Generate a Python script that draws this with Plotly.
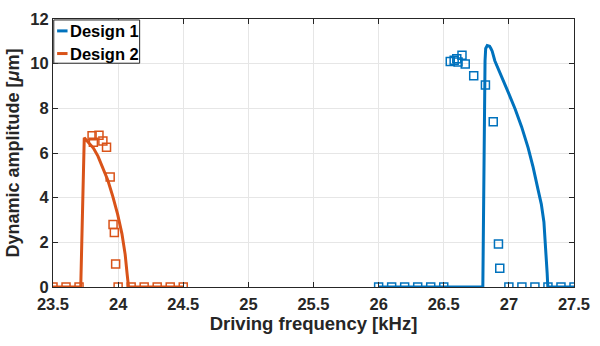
import plotly.graph_objects as go

# Simulated response curves (frequency in kHz, amplitude in µm)
d1_line_f = [26.0, 26.5, 26.80, 26.817, 26.822, 26.834, 26.852, 26.862, 26.872, 26.892,
             26.947, 26.997, 27.048, 27.098, 27.148, 27.186, 27.224, 27.249, 27.269,
             27.284, 27.294, 27.299, 27.5]
d1_line_a = [0.0, 0.0, 0.0, 10.13, 10.68, 10.81, 10.78, 10.68, 10.56, 10.13,
             9.41, 8.69, 7.97, 7.17, 6.23, 5.37, 4.36, 3.71, 2.91,
             1.76, 0.61, 0.0, 0.0]

d2_line_f = [23.5, 23.713, 23.74, 23.77, 23.81, 23.845, 23.883, 23.921, 23.959, 23.996,
             24.029, 24.054, 24.069, 24.08, 24.5]
d2_line_a = [0.0, 0.0, 6.68, 6.48, 6.22, 5.86, 5.35, 4.78, 4.06, 3.26,
             2.39, 1.46, 0.59, 0.0, 0.0]

# Measured points
d1_meas_f = [26.0, 26.1, 26.2, 26.3, 26.4, 26.5,
             26.55, 26.58, 26.60, 26.61, 26.64, 26.665, 26.73, 26.82, 26.88, 26.92, 26.93,
             27.0, 27.1, 27.2, 27.3, 27.4, 27.5]
d1_meas_a = [0, 0, 0, 0, 0, 0,
             10.1, 10.15, 10.22, 10.08, 10.38, 9.98, 9.46, 9.05, 7.4, 1.93, 0.84,
             0, 0, 0, 0, 0, 0]

d2_meas_f = [23.5, 23.6, 23.7,
             23.80, 23.81, 23.853, 23.883, 23.911, 23.939, 23.961, 23.971, 23.981,
             24.0, 24.1, 24.2, 24.3, 24.4, 24.5]
d2_meas_a = [0, 0, 0,
             6.77, 6.48, 6.80, 6.54, 6.26, 4.92, 2.80, 2.44, 1.03,
             0, 0, 0, 0, 0, 0]

x_ticks = [23.5, 24, 24.5, 25, 25.5, 26, 26.5, 27, 27.5]
x_tick_text = ["23.5", "24", "24.5", "25", "25.5", "26", "26.5", "27", "27.5"]
y_ticks = [0, 2, 4, 6, 8, 10, 12]
series_names = ["Design 1", "Design 2"]

BLUE = "#0072BD"
ORANGE = "#D95319"
AX = "#262626"
FONT = "Liberation Sans"

fig = go.Figure()
fig.add_trace(go.Scatter(x=d1_meas_f, y=d1_meas_a, mode="markers", showlegend=False,
                         marker=dict(symbol="square-open", size=8, color=BLUE,
                                     line=dict(width=1.5, color=BLUE))))
fig.add_trace(go.Scatter(x=d2_meas_f, y=d2_meas_a, mode="markers", showlegend=False,
                         marker=dict(symbol="square-open", size=8, color=ORANGE,
                                     line=dict(width=1.5, color=ORANGE))))
fig.add_trace(go.Scatter(x=d1_line_f, y=d1_line_a, mode="lines", name=series_names[0],
                         showlegend=False, line=dict(color=BLUE, width=3)))
fig.add_trace(go.Scatter(x=d2_line_f, y=d2_line_a, mode="lines", name=series_names[1],
                         showlegend=False, line=dict(color=ORANGE, width=3)))

axis_common = dict(showline=True, linecolor=AX, linewidth=1, mirror="ticks",
                   ticks="inside", ticklen=5, tickcolor=AX,
                   showgrid=True, gridcolor="#e6e6e6", gridwidth=1, zeroline=False,
                   tickfont=dict(family=FONT, size=16.5, color=AX))

# Compact boxed legend in the upper-left corner of the axes
shapes = [dict(type="rect", xref="paper", yref="paper", x0=0.0015, x1=0.1663,
               y0=0.835, y1=0.9964, line=dict(color=AX, width=1), fillcolor="white",
               layer="above")]
annotations = []
for name, color, yy in [(series_names[0], BLUE, 0.9556), (series_names[1], ORANGE, 0.8711)]:
    shapes.append(dict(type="line", xref="paper", yref="paper", x0=0.0079, x1=0.0279,
                       y0=yy, y1=yy, line=dict(color=color, width=3), layer="above"))
    annotations.append(dict(xref="paper", yref="paper", x=0.0279, y=yy, xanchor="left",
                            yanchor="middle", showarrow=False, text=f"<b>{name}</b>",
                            font=dict(family=FONT, size=16.5, color="black")))

fig.update_layout(
    width=600, height=346,
    margin=dict(l=52.5, r=17, t=10, b=59),
    paper_bgcolor="white", plot_bgcolor="white",
    font=dict(family=FONT, color=AX),
    showlegend=False,
    shapes=shapes, annotations=annotations,
    xaxis=dict(range=[23.5, 27.5], tickvals=x_ticks, ticktext=[f"<b>{t}</b>" for t in x_tick_text],
               ticklabelstandoff=2,
               title=dict(text="<b>Driving frequency [kHz]</b>", font=dict(family=FONT, size=18.5),
                          standoff=4),
               **axis_common),
    yaxis=dict(range=[0, 12], tickvals=y_ticks, ticktext=[f"<b>{t}</b>" for t in y_ticks],
               title=dict(text="<b>Dynamic amplitude [<i>μ</i>m]</b>", font=dict(family=FONT, size=18),
                          standoff=6),
               **axis_common),
)

fig.write_html("out.html")
